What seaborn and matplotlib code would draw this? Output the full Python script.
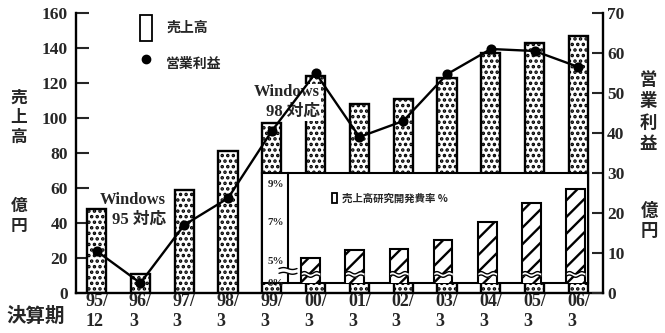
import numpy as np
import matplotlib
matplotlib.use("Agg")
import matplotlib.pyplot as plt
import matplotlib.transforms as mtransforms
import seaborn as sns
from matplotlib.patches import Patch
from matplotlib.lines import Line2D

# ---------------- data ----------------
periods = ["95/12", "96/3", "97/3", "98/3", "99/3", "00/3",
           "01/3", "02/3", "03/3", "04/3", "05/3", "06/3"]
tick_labels = [p.replace("/", "/\n") for p in periods]
sales = [48, 11, 59, 81, 97, 124, 108, 111, 123, 137, 143, 147]          # 億円 (left)
op_profit = [10.5, 2.5, 17, 23.7, 40.5, 55, 39, 43, 54.7, 61, 60.5, 56.5]  # 億円 (right)
rd_periods = ["00/3", "01/3", "02/3", "03/3", "04/3", "05/3", "06/3"]
rd_ratio = [5.1, 5.5, 5.6, 6.05, 7.0, 8.0, 8.75]                         # %
left_ticks = [0, 20, 40, 60, 80, 100, 120, 140, 160]
right_ticks = [0, 10, 20, 30, 40, 50, 60, 70]
inset_ticks = [5, 6, 7, 8, 9]
inset_tick_text = ["5%", "", "7%", "", "9%"]

SERIF = ["Liberation Serif", "Noto Sans CJK JP"]
CJK = ["Noto Sans CJK JP", "DejaVu Sans"]

sns.set_style("white")
plt.rcParams["font.family"] = SERIF
plt.rcParams["font.weight"] = "bold"
plt.rcParams["hatch.linewidth"] = 1.7
plt.rcParams["hatch.color"] = "black"

W, H = 665, 333
fig = plt.figure(figsize=(W / 100, H / 100), dpi=100)
fig.patch.set_facecolor("white")

def fx(px):
    return px / W

def fy(py):
    return 1 - py / H

# ---------------- main axes ----------------
ax = fig.add_axes([fx(76), fy(293), fx(603) - fx(76), fy(13) - fy(293)])
sns.barplot(x=periods, y=sales, ax=ax, color="white", saturation=1,
            edgecolor="black", linewidth=1.7, hatch="...", width=0.44)
ax.set_ylim(0, 160)
ax.set_yticks(left_ticks)

ax2 = ax.twinx()
sns.pointplot(x=periods, y=op_profit, ax=ax2, color="black", markers="o",
              markersize=6, linewidth=1.7)
ax2.set_ylim(0, 70)
ax2.set_yticks(right_ticks)

ax.set_xlim(-0.47, 11.56)
ax.set_xticks(range(len(periods)))
ax.set_xticklabels(tick_labels)
for lbl in ax.get_xticklabels():
    lbl.set_multialignment("left")
    lbl.set_linespacing(1.25)
    lbl.set_fontsize(13)
    lbl.set_fontweight("bold")
ax.tick_params(axis="x", length=0, pad=0)
ax.tick_params(axis="y", direction="in", length=9, width=1.5, labelsize=12.5, pad=6)
ax2.tick_params(axis="y", direction="in", length=8, width=1.5, labelsize=12.5, pad=3)
ax.set_xlabel("")
ax.set_ylabel("")
ax2.set_ylabel("")
ax2.set_xlabel("")

for s in ["top", "right"]:
    ax.spines[s].set_visible(False)
for s in ["top", "left", "bottom"]:
    ax2.spines[s].set_visible(False)
for s in ["left", "bottom"]:
    ax.spines[s].set_linewidth(1.7)
    ax.spines[s].set_color("black")
ax2.spines["right"].set_linewidth(1.7)
ax2.spines["right"].set_color("black")

# legend (main)
handles = [Patch(facecolor="white", edgecolor="black", linewidth=1.3),
           Line2D([], [], color="black", marker="o", linestyle="none", markersize=6)]
leg = ax.legend(handles, ["売上高", "営業利益"], loc="upper left",
                bbox_to_anchor=((140 - 76) / 527, (293 - 15) / 280),
                frameon=False, borderpad=0, borderaxespad=0,
                handlelength=0.85, handleheight=2.5, handletextpad=1.05,
                labelspacing=0.7, prop={"family": CJK, "size": 10, "weight": "bold"})

# annotations
ax.text(1.58, 47.5, "Windows\n95 対応", ha="right", va="center", fontsize=12,
        fontweight="bold", linespacing=1.3, family=SERIF, zorder=5)
ax.text(5.1, 109, "Windows\n98 対応", ha="right", va="center", fontsize=12,
        fontweight="bold", linespacing=1.3, family=SERIF, zorder=5,
        bbox=dict(facecolor="white", edgecolor="none", pad=0.5))

# axis titles
fig.text(fx(19), fy(117), "売\n上\n高", ha="center", va="center", fontsize=12,
         linespacing=1.1, family=CJK, fontweight="bold")
fig.text(fx(19), fy(216), "億\n円", ha="center", va="center", fontsize=12,
         linespacing=1.1, family=CJK, fontweight="bold")
fig.text(fx(648), fy(112), "営\n業\n利\n益", ha="center", va="center", fontsize=12.5,
         linespacing=1.25, family=CJK, fontweight="bold")
fig.text(fx(649), fy(221), "億\n円", ha="center", va="center", fontsize=12.5,
         linespacing=1.15, family=CJK, fontweight="bold")
fig.text(fx(6), fy(316), "決算期", ha="left", va="center", fontsize=14,
         family=CJK, fontweight="bold")

# ---------------- inset ----------------
frame = fig.add_axes([fx(262), fy(283), fx(588) - fx(262), fy(173) - fy(283)])
frame.set_facecolor("white")
frame.set_xticks([])
frame.set_yticks([])
for s in frame.spines.values():
    s.set_visible(True)
    s.set_linewidth(1.5)
    s.set_color("black")

axi = fig.add_axes([fx(288), fy(283), fx(588) - fx(288), fy(173) - fy(283)])
axi.patch.set_visible(False)
sns.barplot(x=rd_periods, y=rd_ratio, ax=axi, color="white", saturation=1,
            edgecolor="black", linewidth=1.5, hatch="//", width=0.42)
ybot = 5 - 23 / 19
axi.set_ylim(ybot, 5 + 87 / 19)
axi.set_xlim(-0.51, 6.28)
axi.set_yticks([ybot] + inset_ticks)
axi.set_yticklabels(["0%"] + inset_tick_text)
axi.tick_params(axis="y", direction="in", length=6, width=1.3, labelsize=8, pad=3)
axi.tick_params(axis="x", length=0, labelbottom=False)
axi.set_xlabel("")
axi.set_ylabel("")
for s in ["top", "right", "bottom"]:
    axi.spines[s].set_visible(False)
axi.spines["left"].set_linewidth(1.5)
axi.spines["left"].set_color("black")

# wavy break on each inset bar
for p in list(axi.patches):
    x0 = p.get_x()
    x1 = x0 + p.get_width()
    xs = np.linspace(x0, x1, 40)
    ph = (xs - x0) / (x1 - x0) * 2 * np.pi * 1.5
    lo = 4.15 + 0.06 * np.sin(ph)
    hi = 4.33 + 0.06 * np.sin(ph)
    axi.fill_between(xs, lo, hi, color="white", zorder=4, linewidth=0)
    axi.plot(xs, lo, color="black", lw=1.0, zorder=5)
    axi.plot(xs, hi, color="black", lw=1.0, zorder=5)

# axis break mark on inset spine
trans = mtransforms.blended_transform_factory(axi.transAxes, axi.transData)
bx = np.linspace(-0.03, 0.03, 20)
bph = (bx + 0.03) / 0.06 * 2 * np.pi
axi.fill_between(bx, 4.3 + 0.05 * np.sin(bph), 4.55 + 0.05 * np.sin(bph),
                 color="white", transform=trans, clip_on=False, zorder=6, linewidth=0)
axi.plot(bx, 4.3 + 0.05 * np.sin(bph), color="black", lw=1.0, transform=trans,
         clip_on=False, zorder=7)
axi.plot(bx, 4.55 + 0.05 * np.sin(bph), color="black", lw=1.0, transform=trans,
         clip_on=False, zorder=7)

# inset legend
ileg = axi.legend([Patch(facecolor="white", edgecolor="black", linewidth=1.3)],
                  ["売上高研究開発費率 %"], loc="center left",
                  bbox_to_anchor=((332 - 288) / 300, (283 - 198) / 110),
                  frameon=False, borderpad=0, borderaxespad=0,
                  handlelength=0.5, handleheight=1.15, handletextpad=0.5,
                  prop={"family": CJK, "size": 7.5, "weight": "bold"})

fig.savefig("out.png", dpi=100, facecolor="white")
